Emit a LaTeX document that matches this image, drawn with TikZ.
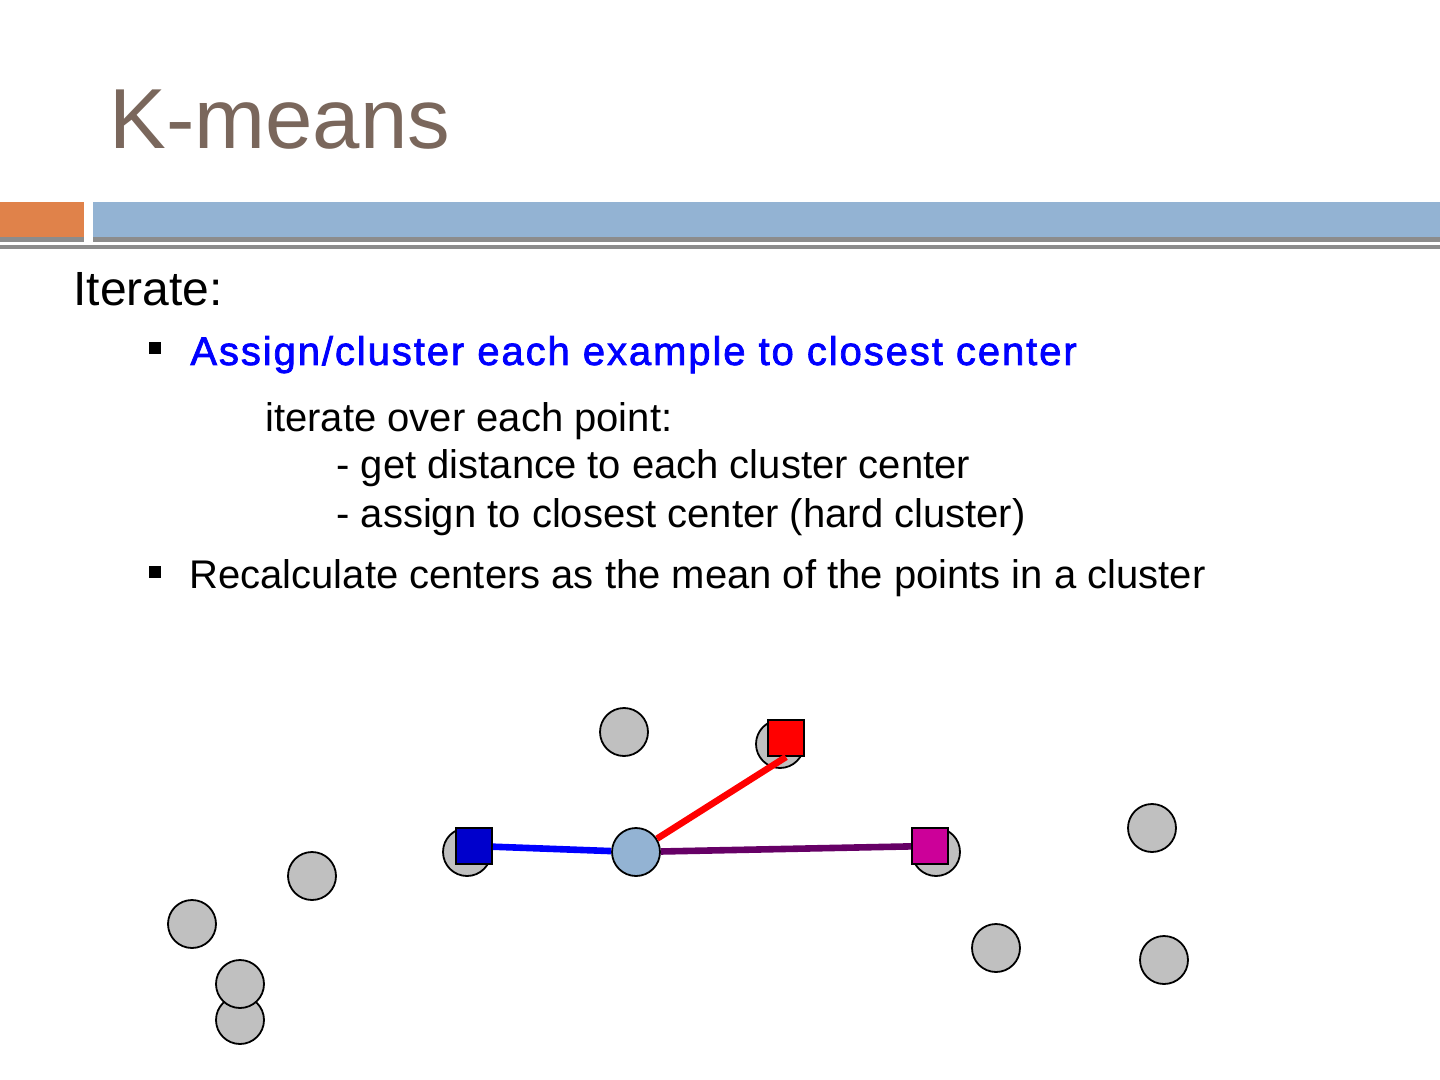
\documentclass[tikz,border=0pt]{standalone}
\usepackage{fontspec}
\setmainfont{Liberation Sans}
\newfontfamily\stepfont[FakeBold=1.8,LetterSpace=4.8]{Liberation Sans}
\usetikzlibrary{positioning}
\definecolor{titlebrown}{RGB}{122,103,92}
\definecolor{barorange}{RGB}{224,130,74}
\definecolor{barblue}{RGB}{147,179,211}
\definecolor{bargray}{RGB}{140,140,140}
\definecolor{ptgray}{RGB}{192,192,192}
\definecolor{sqblue}{RGB}{0,0,204}
\definecolor{sqmagenta}{RGB}{204,0,153}
\definecolor{linepurple}{RGB}{102,0,102}

\begin{document}
\begin{tikzpicture}[
    x=0.5pt, y=-0.5pt,
    txt/.style={anchor=base west, inner sep=0pt, font=\fontsize{20}{24}\selectfont},
    bullet/.style={rectangle, fill=black, minimum size=6pt, inner sep=0pt},
    datapt/.style={circle, draw=black, fill=ptgray, line width=0.9pt, minimum size=24pt, inner sep=0pt},
    current/.style={datapt, fill=barblue},
    seed/.style={rectangle, draw=black, line width=1pt, minimum size=18pt, inner sep=0pt},
    link/.style={line width=3.3pt}
  ]
  \fill[white] (0,0) rectangle (1440,1080);
  \useasboundingbox (0,0) rectangle (1440,1080);

  % Title and header bars
  \node[txt, font=\fontsize{42.6}{50}\selectfont, text=titlebrown] (title) at (109,149) {K-means};
  \fill[bargray] (0,237) rectangle (84,242);
  \fill[bargray] (93,237) rectangle (1440,242);
  \fill[barorange] (0,202) rectangle (84,237);
  \fill[barblue] (93,202) rectangle (1440,237);
  \fill[bargray] (0,245) rectangle (1440,249);

  % Text
  \node[txt, font=\fontsize{24}{28}\selectfont] (iter) at (73,306) {Iterate:};
  \node[bullet] (b1) at (155,348) {};
  \node[txt, font=\stepfont\fontsize{20}{24}\selectfont, text=blue] (assign) at (190,365) {Assign/cluster each example to closest center};
  \node[txt] (loop) at (265,431) {iterate over each point:};
  \node[txt] (dist) at (336,479) {- get distance to each cluster center};
  \node[txt] (hard) at (336,527) {- assign to closest center (hard cluster)};
  \node[bullet] (b2) at (155,572) {};
  \node[txt] (recalc) at (189,588) {Recalculate centers as the mean of the points in a cluster};

  % Data points
  \node[datapt] (p1) at (624,732) {};
  \node[datapt] (p2) at (780,744) {};
  \node[datapt] (p3) at (1152,828) {};
  \node[datapt] (p4) at (467,852) {};
  \node[datapt] (p5) at (936,852) {};
  \node[datapt] (p6) at (312,876) {};
  \node[datapt] (p7) at (192,924) {};
  \node[datapt] (p8) at (996,948) {};
  \node[datapt] (p9) at (1164,960) {};
  \node[datapt] (p10) at (240,1020) {};
  \node[datapt] (p11) at (240,984) {};

  % Point being assigned and the cluster centers
  \node[current] (pc) at (636,852) {};
  \node[seed, fill=sqblue] (cb) at (474,846) {};
  \node[seed, fill=red] (cr) at (786,738) {};
  \node[seed, fill=sqmagenta] (cm) at (930,846) {};

  % Distances
  \draw[link, blue] (pc) -- (cb);
  \draw[link, red] (pc) -- (cr.south);
  \draw[link, linepurple] (pc) -- (cm);
\end{tikzpicture}
\end{document}
